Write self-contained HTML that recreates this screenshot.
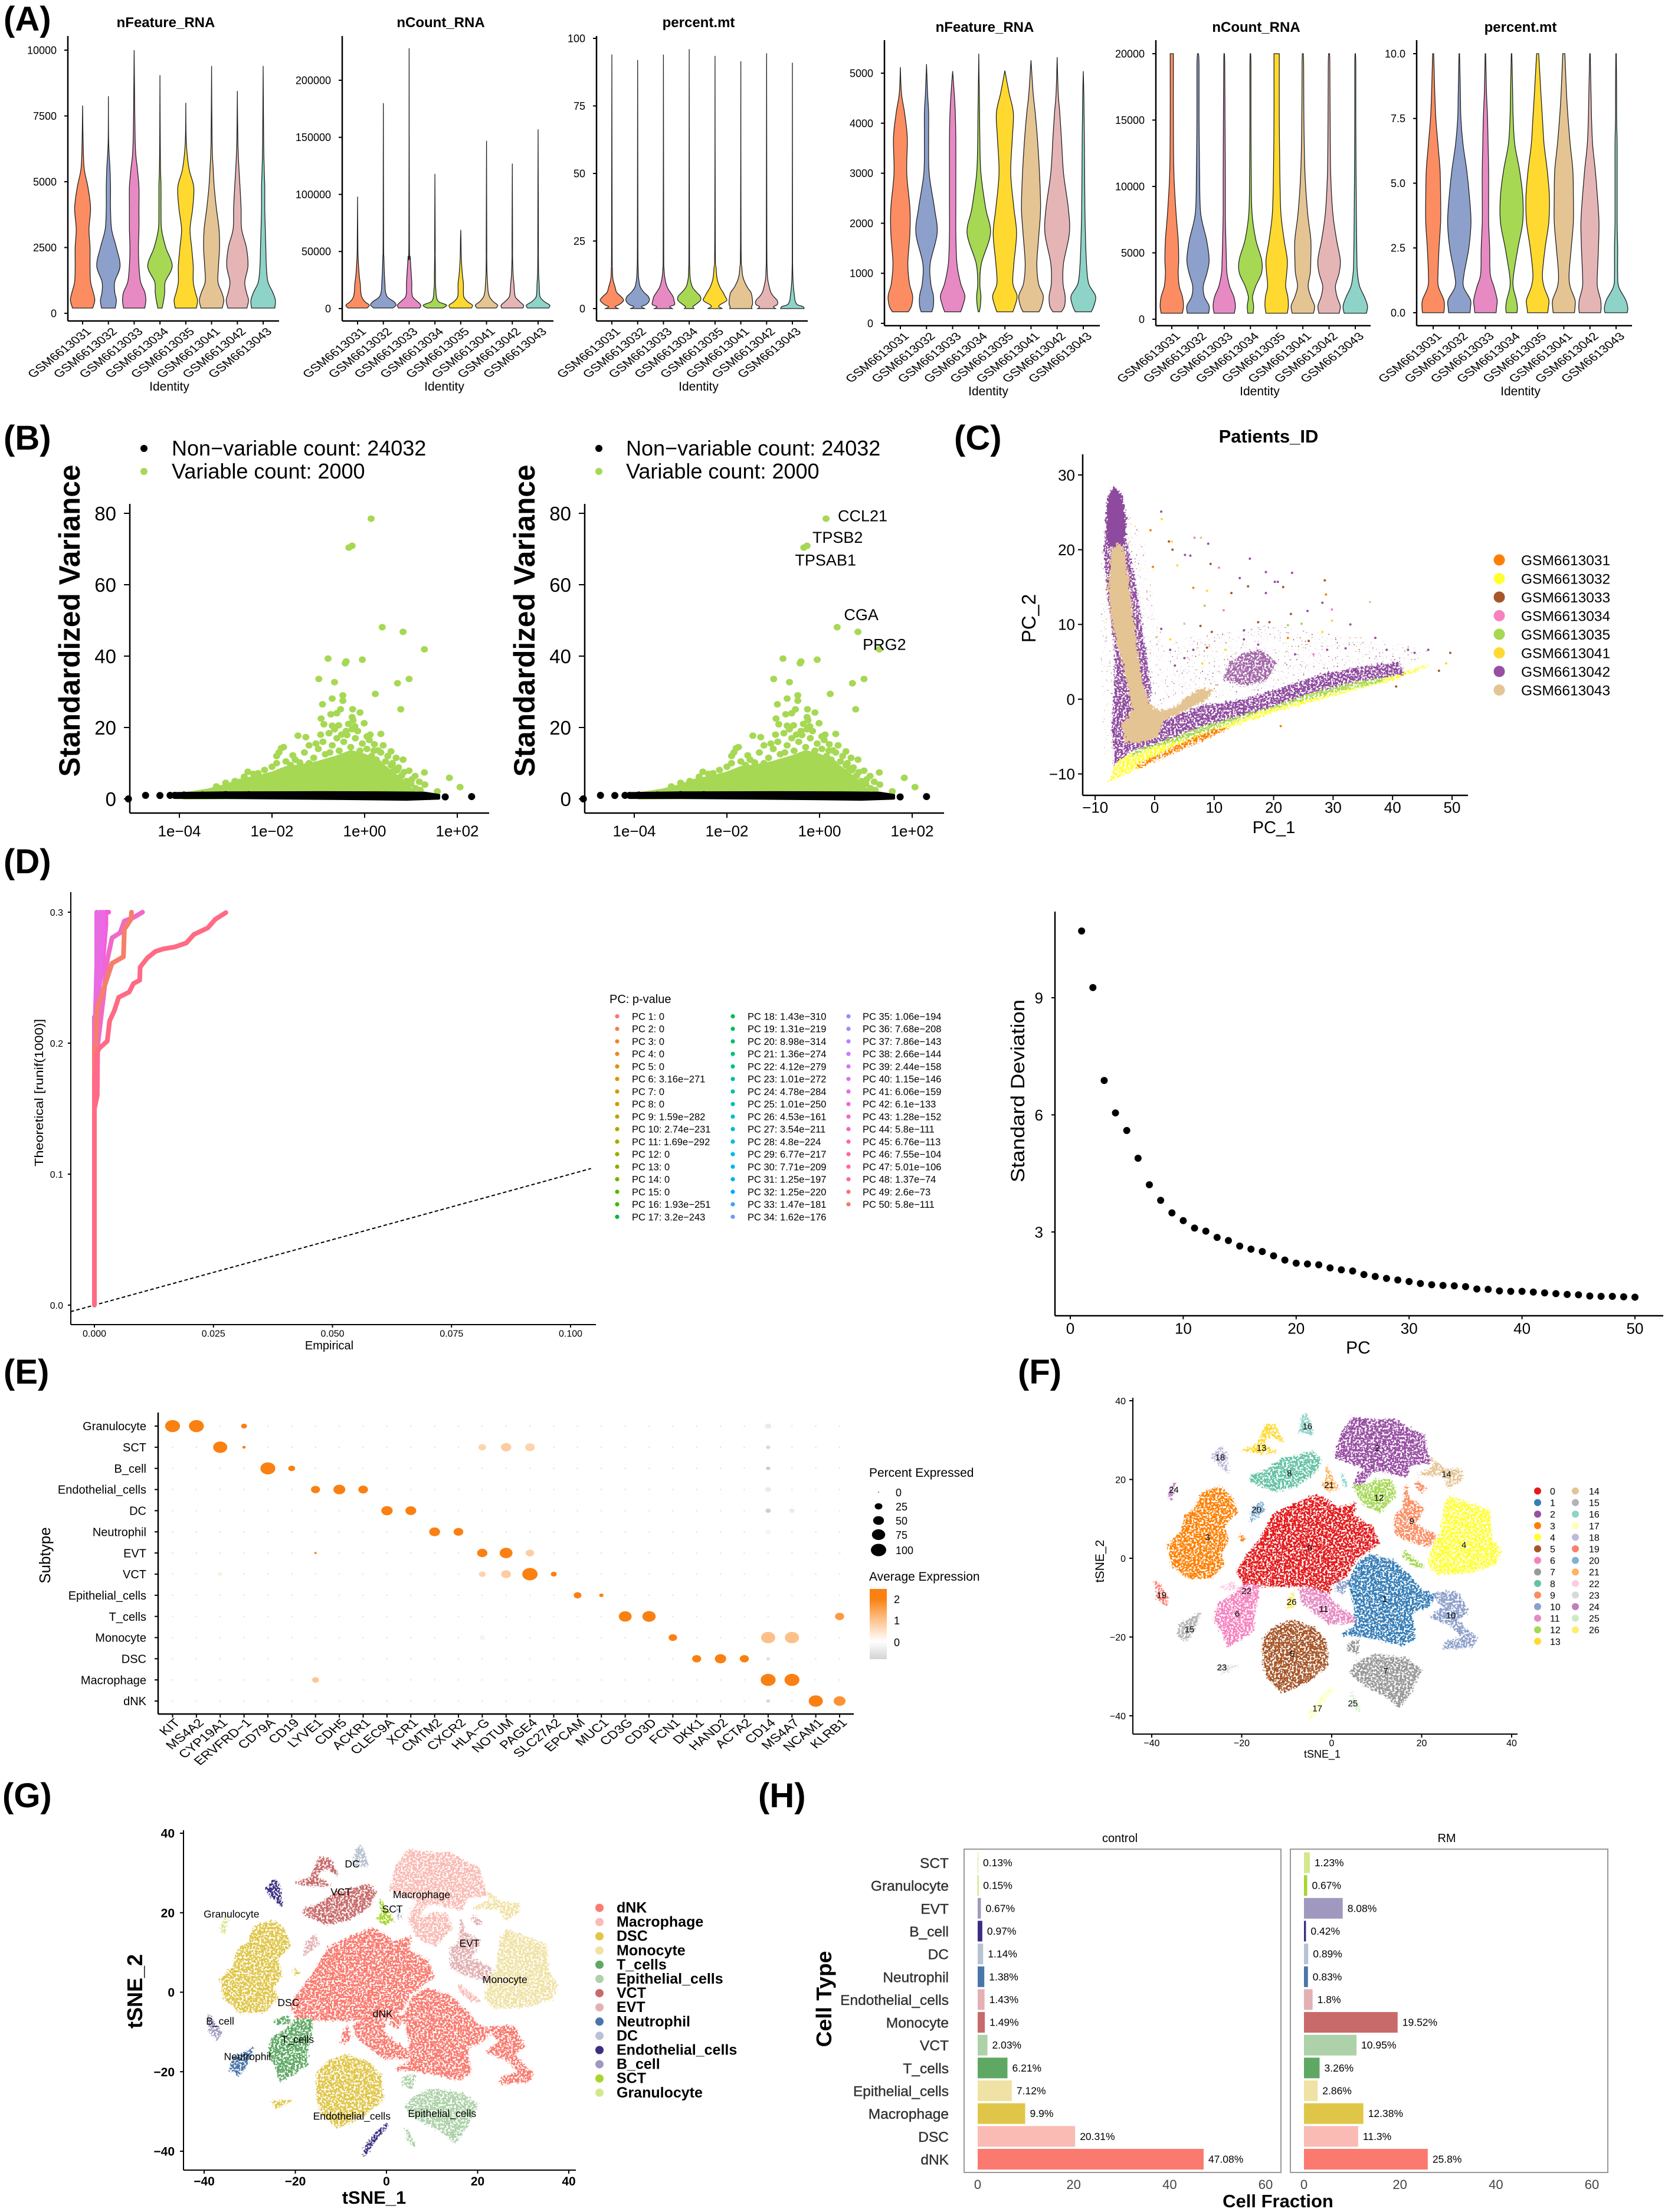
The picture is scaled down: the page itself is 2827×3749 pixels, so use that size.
<!DOCTYPE html>
<html lang="en">
<head>
<meta charset="utf-8">
<title>Single-cell RNA-seq figure panels</title>
<style>
html,body{margin:0;padding:0;background:#fff;}
svg{display:block;font-family:"Liberation Sans",sans-serif;}
text{fill:#000;}
.letter{font-weight:bold;font-size:58px;}
.vtitle{font-weight:bold;font-size:24px;text-anchor:middle;}
.vx{font-size:21px;text-anchor:middle;}
</style>
</head>
<body>
<svg id="figure" xmlns="http://www.w3.org/2000/svg" width="2827" height="3749" viewBox="0 0 2827 3749">
<defs>
<filter id="stipple" x="-3%" y="-3%" width="106%" height="106%" color-interpolation-filters="sRGB">
<feTurbulence type="fractalNoise" baseFrequency="0.3" numOctaves="2" seed="4" result="n"/>
<feDisplacementMap in="SourceGraphic" in2="n" scale="12" xChannelSelector="R" yChannelSelector="G" result="d"/>
<feColorMatrix in="n" type="matrix" values="0 0 0 0 0 0 0 0 0 0 0 0 0 0 0 0 0 0 12 -4.9" result="m"/>
<feComposite in="d" in2="m" operator="in"/>
</filter>
<filter id="rough" x="-3%" y="-3%" width="106%" height="106%" color-interpolation-filters="sRGB">
<feTurbulence type="fractalNoise" baseFrequency="0.25" numOctaves="2" seed="9" result="n"/>
<feDisplacementMap in="SourceGraphic" in2="n" scale="14" xChannelSelector="R" yChannelSelector="G"/>
</filter>
<filter id="sparse" x="-3%" y="-3%" width="106%" height="106%" color-interpolation-filters="sRGB">
<feTurbulence type="fractalNoise" baseFrequency="0.35" numOctaves="1" seed="15" result="n"/>
<feColorMatrix in="n" type="matrix" values="0 0 0 0 0 0 0 0 0 0 0 0 0 0 0 0 0 0 18 -12.6" result="m"/>
<feComposite in="SourceGraphic" in2="m" operator="in"/>
</filter>
<filter id="sparse-alt" x="-3%" y="-3%" width="106%" height="106%" color-interpolation-filters="sRGB">
<feTurbulence type="fractalNoise" baseFrequency="0.35" numOctaves="1" seed="31" result="n"/>
<feColorMatrix in="n" type="matrix" values="0 0 0 0 0 0 0 0 0 0 0 0 0 0 0 0 0 0 18 -12.8" result="m"/>
<feComposite in="SourceGraphic" in2="m" operator="in"/>
</filter>
<linearGradient id="expr-gradient" x1="0" y1="0" x2="0" y2="1">
<stop offset="0" stop-color="#FA8012"/><stop offset="0.14" stop-color="#FA8012"/><stop offset="0.45" stop-color="#FDC590"/><stop offset="0.75" stop-color="#ffffff"/><stop offset="1" stop-color="#D3D3D3"/>
</linearGradient>
</defs>
<rect x="0" y="0" width="2827" height="3749" fill="#fff"/>

<text class="letter" x="6" y="52">(A)</text>
<text class="letter" x="6" y="762">(B)</text>
<text class="letter" x="1617" y="762">(C)</text>
<text class="letter" x="6" y="1480">(D)</text>
<text class="letter" x="6" y="2345">(E)</text>
<text class="letter" x="1725" y="2345">(F)</text>
<text class="letter" x="4" y="3063">(G)</text>
<text class="letter" x="1285" y="3063">(H)</text>

<g id="panel-a">
<text class="vtitle" x="281" y="46">nFeature_RNA</text>
<text class="vtitle" x="747" y="46">nCount_RNA</text>
<text class="vtitle" x="1184" y="46">percent.mt</text>
<text class="vtitle" x="1669" y="54">nFeature_RNA</text>
<text class="vtitle" x="2129" y="54">nCount_RNA</text>
<text class="vtitle" x="2577" y="54">percent.mt</text>
<text class="vx" x="287" y="662">Identity</text>
<text class="vx" x="753" y="662">Identity</text>
<text class="vx" x="1184" y="662">Identity</text>
<text class="vx" x="1675" y="670">Identity</text>
<text class="vx" x="2135" y="670">Identity</text>
<text class="vx" x="2577" y="670">Identity</text>
</g>

<g id="panel-b">
<text transform="translate(135,1052) rotate(-90)" text-anchor="middle" font-size="50" font-weight="bold" textLength="529" lengthAdjust="spacingAndGlyphs">Standardized Variance</text>
<text transform="translate(906,1052) rotate(-90)" text-anchor="middle" font-size="50" font-weight="bold" textLength="529" lengthAdjust="spacingAndGlyphs">Standardized Variance</text>
<circle cx="244" cy="760" r="6" fill="#000"/>
<circle cx="244" cy="799" r="6" fill="#A6D854"/>
<text x="291" y="772" font-size="36">Non−variable count: 24032</text>
<text x="291" y="811" font-size="36">Variable count: 2000</text>
<circle cx="1015" cy="760" r="6" fill="#000"/>
<circle cx="1015" cy="799" r="6" fill="#A6D854"/>
<text x="1061" y="772" font-size="36">Non−variable count: 24032</text>
<text x="1061" y="811" font-size="36">Variable count: 2000</text>
</g>

<g id="panel-c">
<text x="2150" y="750" text-anchor="middle" font-size="31" font-weight="bold">Patients_ID</text>
<text x="2159" y="1412" text-anchor="middle" font-size="29">PC_1</text>
<text transform="translate(1755,1048) rotate(-90)" text-anchor="middle" font-size="33">PC_2</text>
</g>

<g id="panel-d">
<text x="558" y="2287" text-anchor="middle" font-size="20">Empirical</text>
<text transform="translate(73,1852) rotate(-90)" text-anchor="middle" font-size="20" textLength="250" lengthAdjust="spacingAndGlyphs">Theoretical [runif(1000)]</text>
<text x="1033" y="1700" font-size="20">PC: p-value</text>
</g>

<g id="panel-elbow">
<text x="2302" y="2294" text-anchor="middle" font-size="30">PC</text>
<text transform="translate(1736,1849) rotate(-90)" text-anchor="middle" font-size="32" textLength="310" lengthAdjust="spacingAndGlyphs">Standard Deviation</text>
</g>

<g id="panel-e">
<text transform="translate(85,2636) rotate(-90)" text-anchor="middle" font-size="26">Subtype</text>
<text x="1473" y="2503" font-size="21">Percent Expressed</text>
<text x="1473" y="2679" font-size="21">Average Expression</text>
<rect x="1474" y="2693" width="29" height="119" fill="url(#expr-gradient)"/>
<text x="1515" y="2717" font-size="18">2</text>
<text x="1515" y="2753" font-size="18">1</text>
<text x="1515" y="2790" font-size="18">0</text>
</g>

<g id="panel-f">
<text x="2241" y="2979" text-anchor="middle" font-size="18">tSNE_1</text>
<text transform="translate(1871,2646) rotate(-90)" text-anchor="middle" font-size="21">tSNE_2</text>
</g>

<g id="panel-g">
<text x="634" y="3735" text-anchor="middle" font-size="31" font-weight="bold">tSNE_1</text>
<text transform="translate(241,3375) rotate(-90)" text-anchor="middle" font-size="36" font-weight="bold">tSNE_2</text>
</g>

<g id="panel-h">
<text x="1898" y="3122" text-anchor="middle" font-size="20" fill="#222">control</text>
<text x="2452" y="3122" text-anchor="middle" font-size="20" fill="#222">RM</text>
<text x="2166" y="3741" text-anchor="middle" font-size="31" font-weight="bold">Cell Fraction</text>
<text transform="translate(1409,3388) rotate(-90)" text-anchor="middle" font-size="36" font-weight="bold" textLength="163" lengthAdjust="spacingAndGlyphs">Cell Type</text>
</g>
</svg>

<script>
/* ---------- shared categories ---------- */
const samples = ['GSM6613031','GSM6613032','GSM6613033','GSM6613034','GSM6613035','GSM6613041','GSM6613042','GSM6613043'];
const violinColors = ['#FC8D62','#8DA0CB','#E78AC3','#A6D854','#FFD92F','#E5C494','#E5B5B5','#8DD3C7'];

/* ---------- panel A violins (density profile at each grid value) ---------- */
const a1Grid = [200,500,800,1200,1800,2500,3200,4000,4800,5500,6500];
const a1Tops = [7900,8250,10000,9050,8000,9400,8450,9400];
const a1Dens = [
[19,23,20,15,14,14,12,15,10,3,1],
[13,15,12,12,22,15,6,4,4,3,.5],
[20,22,20,12,9,8,9,9,9,6,2],
[4,7,9,10,23,11,3,2,2,1,.5],
[20,22,18,14,14,11,8,13,15,6,1],
[20,23,19,12,13,15,14,9,5,3,1],
[18,21,17,14,20,17,8,7,5,3,1],
[22,23,18,9,6,5,4,3,3,2,1]];
const a1Ticks = [0,2500,5000,7500,10000];

const a2Grid = [500,3000,6000,10000,15000,22000,30000,45000,60000];
const a2Tops = [98000,180000,228000,118000,69000,147000,127000,157000];
const a2Dens = [
[18,22,14,8,6,5,3,1,.5],
[18,24,20,8,4,3,2,1,.5],
[20,22,16,7,5,5,4,2,.5],
[15,22,7,3,2,1,1,.5,.5],
[20,22,13,6,5,5,3,1,.5],
[18,21,13,6,3,2,1,.5,.5],
[20,21,14,6,4,3,1.5,.5,.5],
[20,22,12,4,2.5,2,1,.5,.5]];
const a2Ticks = [0,50000,100000,150000,200000];

const a3Grid = [0,.7,1.5,3,4.5,6,8,11,15,25];
const a3Tops = [94,92,94,96,93.5,91.5,94.5,91];
const a3Dens = [
[12,6,14,22,17,9,6,2,1,.5],
[14,7,16,22,20,12,5,2,1,.5],
[17,12,21,20,18,13,7,3,1,.5],
[9,7,12,21,21,14,6,2,1,.5],
[14,7,10,22,19,15,9,4,2,.5],
[21,20,22,22,21,19,12,5,2,.5],
[17,13,20,20,13,8,5,2,1,.5],
[22,20,9,5,4,3,2,1,.5,.3]];
const a3Ticks = [0,25,50,75,100];

const a4Grid = [230,350,550,800,1200,1800,2300,3000,3700,4200,4600];
const a4Tops = [5120,5180,5040,5390,5050,5260,5320,5040];
const a4Dens = [
[15,21,23,17,14,18,18,12,13,8,2],
[10,13,13,8,7,20,15,5,4,4,2],
[15,19,23,15,8,6,6,6,6,5,3],
[1,3,4,2,5,22,13,4,2,1.5,1],
[15,19,23,15,17,22,17,11,14,16,8],
[15,20,23,14,11,15,18,16,12,8,4],
[8,14,15,11,12,23,21,12,8,5,2],
[15,20,23,10,6,4,3,2.5,2,1.5,1]];
const a4Ticks = [0,1000,2000,3000,4000,5000];

const a5Grid = [450,1000,1700,2500,3500,4500,6000,8000,11000,15000,19000,20000];
const a5Tops = [20000,20000,20000,20000,20000,20000,20000,20000];
const a5Dens = [
[20,22,20,14,12,13,12,8,4,3,3,3],
[20,21,12,10,17,21,16,5,3,2,2,1],
[19,21,18,10,5,4,3,2,2,1.5,1,.5],
[5,6,4,10,21,21,10,3,1.5,1,1,.5],
[20,22,21,17,19,20,14,8,6,5,5,5],
[20,22,15,10,14,15,15,9,4,2,1.5,1],
[19,21,15,12,19,21,14,7,3,2,1.5,1],
[21,23,17,8,4,3,2.5,2,1.5,1,1,.5]];
const a5Ticks = [0,5000,10000,15000,20000];

const a6Grid = [0,.2,.5,1,1.5,2.5,3.5,4.5,5.5,6.5,7.5,8.5,10];
const a6Tops = [10,10,10,10,10,10,10,10];
const a6Dens = [
[20,21,20,10,9,11,14,14,13,9,5,3,1],
[20,21,21,8,9,18,22,19,14,7,3,2,.5],
[20,21,22,16,9,8,6,6,6,5,4,2,.5],
[10,11,9,3,4,12,21,21,15,6,3,2,.5],
[19,20,21,12,9,14,21,22,18,12,9,6,2],
[20,21,21,12,10,14,18,18,17,12,8,5,2],
[20,21,20,14,14,16,17,14,10,5,3,2,.5],
[21,22,18,5,3,3,2,2,2,2,1,1,.5]];
const a6Ticks = [0,2.5,5,7.5,10];
const a6TickLabels = ['0.0','2.5','5.0','7.5','10.0'];

/* ---------- panel B ---------- */
const hvfLogMeanTicks = [-4,-2,0,2];
const hvfLogMeanLabels = ['1e−04','1e−02','1e+00','1e+02'];
const hvfVarTicks = [0,20,40,60,80];
const hvfVariablePoints = [[.14,78.5],[-.34,70.4],[-.27,70.9],[.38,48.1],[.83,46.8],[1.29,41.9],[-.79,39.3],[-.42,38],[-.4,38.5],[-.05,39],[-.99,33.6],[-.65,32.7],[.71,32.4],[.96,33.6],[.23,29.4],[-.47,29],[-.7,28.1],[-.47,27.5],[-.91,26.5],[.78,25.1],[-.26,25.1],[-.52,25.1],[-.1,24.2],[-.73,23.7],[-.6,24],[-.94,22.5],[-.27,22.9],[-.01,21.2],[-.88,20.9],[-.56,20.6],[-.21,20.3],[-.27,19.5],[.35,18.2],[-1.44,17.7],[-1.27,17.3],[-.77,18.4],[.12,18],[-.38,17.9],[.21,15.3],[-1.8,14.2],[.29,13.6],[.57,13.3],[.83,11],[.57,9.4],[.73,8.8],[1.29,7.4],[.96,7.9],[1.09,6.4],[1.83,5.9],[1.18,4.8],[1.57,2.1],[2.06,3.3],[-2.52,7.6],[-2.16,8.1],[-1.9,12],[-1.7,10.5],[-1.5,11],[-1.3,13],[-1.2,15],[-1.1,11.5],[-1,14],[-.9,16],[-.85,12.5],[-.7,15],[-.6,17],[-.55,13.5],[-.45,16],[-.4,19],[-.3,14.5],[-.2,17],[-.15,12],[-.05,15.5],[.05,14],[.1,16.5],[.15,12],[.25,11],[.35,13],[.45,10.5],[.6,10],[.7,8],[.55,7.5],[.8,6.5],[.9,5],[1,4.2],[-2.8,5],[-2.4,7],[-2,9],[-1.6,9.5],[-1.2,10],[-.8,10.5],[-.4,11],[0,11],[-1.85,13],[-1.75,14.5],[-.95,18],[-.65,19.5],[-.35,21],[-.15,19],[.05,17.5],[-3.2,3.5],[-3,4.5],[-2.6,6.2],[-2.3,7.2],[-1.9,10],[-1.55,12.2],[-1.4,10.2],[-1.05,15.5],[-.75,13],[-.5,18],[-.1,13.5],[.2,13.5],[.3,10],[.42,8.5],[.5,12],[.65,8.5],[.75,6],[.85,7.5],[1.02,5.5],[1.1,3],[1.2,2.5],[1.3,4],[.68,11.5],[.4,15],[-.25,22],[-.7,20.5]];
const hvfVariableMass = [[-3.9,1.2],[-3.4,2.2],[-3,3.5],[-2.7,5],[-2.3,6],[-2,7],[-1.7,8.5],[-1.4,9],[-1,10],[-.6,11.5],[-.3,13],[0,12],[.3,10],[.55,7.5],[.75,5.5],[.95,3],[1.1,1],[-3.9,.5]];
const hvfBlackBand = [[-4.1,1.5],[-3,1.7],[-1,1.75],[.5,1.7],[1.3,1.6],[1.6,1],[1.6,.2],[.9,-.1],[-.5,.1],[-3,.4],[-4.1,.4]];
const hvfBlackPoints = [[-5.1,0],[-4.73,1],[-4.42,.95],[-4.2,1],[-4.1,1],[-3.9,1.1],[-3.5,1.1],[-3,1.2],[-2.5,1.2],[-2,1.1],[-1.5,1.1],[-1,1.1],[-.5,1],[0,1],[.5,.9],[1,.9],[1.4,.7],[1.74,.55],[2.31,.65]];
const hvfGeneNames = ['CCL21','TPSB2','TPSAB1','CGA','PRG2'];
const hvfGeneLabelX = [.93,.39,.13,.9,1.4];
const hvfGeneLabelY = [79.4,73.4,67,51.7,43.4];

/* ---------- panel C ---------- */
const pcaXTicks = [-10,0,10,20,30,40,50];
const pcaYTicks = [-10,0,10,20,30];
const pcaColors = ['#FF7F00','#FFFF33','#A65628','#F781BF','#A6D854','#FFD92F','#984EA3','#E5C494'];
const pcaYellowBand = [[-7.4,-10.8],[-2.8,-9.1],[5,-6.4],[12.7,-3.6],[20.5,-1.5],[29,.4],[39,2.4],[46,4.5],[42.2,3.6],[28.2,1.65],[18.9,-.46],[8.1,-3.3],[-.5,-6.4],[-5.9,-7.9]];
const pcaOrangeBand = [[-3,-9.3],[5,-6.6],[12.7,-3.9],[10,-4],[3,-6.4],[-3,-8.8]];
const pcaGreenBand = [[-4.3,-7.9],[-1.2,-6.6],[5,-5.4],[18.9,-1.4],[30.5,.95],[39,2.5],[38.3,3],[30.5,1.65],[18.9,-.6],[5,-4.5],[-2.8,-6.6]];
const pcaHazeArm = [[-9,22],[-4,25],[-1,20],[0,12],[2,6],[4,1],[-1,-2],[-8.5,-8],[-9,5]];
const pcaHazeMid = [[1,1],[3,8],[12,9],[20,10],[27,9],[38,8],[46,6.5],[42,4],[30,3.5],[20,1.5],[12,0]];
const pcaPurpleArm = [[-7.05,-8.9],[-4.3,-7.1],[1.1,-5.7],[8.1,-3.6],[18.9,-1.2],[26.7,.95],[34.4,2.4],[42.2,3.4],[41,5],[34.4,4.3],[28.2,3.4],[20.5,1.3],[14.3,-.1],[8.1,-.8],[1.1,-2.9],[-5.9,-4]];
const pcaPurpleSides = [[-8.3,22],[-5,22],[-3.4,16.4],[-2.2,10.1],[-1.5,6.6],[-.6,1.3],[-1,-2.2],[-5.5,-4.3],[-6.7,-8.9],[-7.3,-4],[-6.8,1.3],[-6.7,6.6],[-7.9,13.6],[-8.6,20]];
const pcaPurpleTop = [[-8.1,24.2],[-8,26.7],[-7,28.6],[-5.5,27.4],[-4.8,24.2],[-4.9,22],[-5.5,20.5],[-7.5,20.5],[-8.3,22]];
const pcaPurpleBlob = [[11.5,2.6],[15,1.8],[19,2.6],[20.5,5],[18,6.6],[15,6.2],[12.5,4.8]];
const pcaTanBody = [[-6.2,21],[-5.1,20],[-4.2,15],[-3.4,10],[-2.8,6],[-2,2],[-1,-.5],[.5,-1.5],[3,-1.2],[5.5,.3],[7.7,1.4],[10,1.2],[8.5,-.2],[5,-1.5],[1.5,-3],[.5,-5],[-2,-5.8],[-5,-5.8],[-5.6,-3.5],[-3.8,-1.5],[-4.5,2],[-5.5,5],[-7.2,10],[-7.8,15],[-7.3,20]];
const pcaSparsePoints = [[1.1,25.1,6],[1.2,24.1,5],[-.7,22.6,0],[2.4,21.1,2],[2.9,21.1,5],[6.7,21.6,3],[7.8,21.6,7],[9,20.8,6],[3,20,2],[6,19.2,6],[5.1,19.3,6],[-.3,17.7,0],[9.4,18.1,2],[10.8,17.6,3],[3.8,17.9,5],[14.3,16.2,6],[18.7,17,6],[23.1,16.9,6],[16,18.8,6],[20.2,15.7,6],[20.7,15.7,6],[15.7,15.1,2],[28.6,15.9,2],[28.8,14,0],[21.6,15,2],[18.7,14.2,6],[12.9,14.2,2],[6.5,14.9,0],[8.8,14.5,5],[28.2,12.9,6],[29.8,12,3],[36.2,13,7],[25.7,11.8,6],[22.9,11.4,2],[11.6,11.9,3],[8.4,12.5,4],[17.4,10.3,2],[19.3,10.3,2],[32.9,10,6],[29.8,10.5,5],[22.4,9.9,4],[24.7,10.1,4],[9.6,9,2],[7.7,9.8,2],[15,9.2,6],[22.4,8.2,0],[37.1,8.2,6],[25.9,7.8,2],[15,8,6],[17.4,7.3,6],[28.2,9,5],[8.8,6.9,2],[11.9,6.6,5],[2.6,6.6,6],[5,10.1,7],[2.6,8,5],[1.1,9.4,6],[8,4.8,5],[5,5.5,6],[3.4,4.5,6],[6.5,6.6,6],[.3,8.3,7],[39,6.6,6],[46,6.6,6],[49.7,6.2,2],[47.8,3.8,2],[43.7,6.2,6],[42.6,6.6,6],[32.1,6.8,6],[29,6.6,6],[26.7,6,3],[23.6,6,6],[21.2,-3.6,0],[40.6,1.7,2],[49,4.8,5]];

/* ---------- panel D jackstraw ---------- */
const qqXTicks = [0,.025,.05,.075,.1];
const qqXLabels = ['0.000','0.025','0.050','0.075','0.100'];
const qqYTicks = [0,.1,.2,.3];
const qqYLabels = ['0.0','0.1','0.2','0.3'];
const qqColors = ['#FF6A85','#F57F6A','#F06AC8','#E86BE0','#E86BE0','#EE66E8','#F45FD8','#FF6A85','#FF6A85'];
const qqEmpirical = [
[0,.0004,.001,.0027,.0032,.0042,.0051,.0073,.0082,.0095,.0096,.0111,.0128,.0145,.0168,.0193,.0209,.0238,.0254,.0276],
[0,.0006,.0023,.0037,.0061,.0063,.0077,.0078],
[0,.0006,.0019,.0027,.0037,.0054,.0063,.0082,.0101],
[0,.0002,.0005,.0005],
[0,.0008,.001,.0012],
[.0002,.0012,.0018,.0018],
[.0005,.0017,.0024,.0024,.003],
[0,.0006,.0007,.0012,.0016],
[0,0]];
const qqTheoretical = [
[.15,.191,.196,.2016,.217,.225,.235,.239,.2455,.248,.258,.265,.27,.272,.2734,.2765,.283,.288,.2946,.2997],
[.176,.227,.2455,.261,.266,.287,.2946,.3],
[.1499,.196,.2351,.2636,.2804,.2843,.2933,.2959,.3],
[.2,.22,.26,.3],
[.2,.24,.28,.3],
[.22,.25,.285,.3],
[.23,.26,.29,.3,.3],
[.15,.16,.2,.23,.24],
[0,.22]];
const pcLegend = ['PC 1: 0','PC 2: 0','PC 3: 0','PC 4: 0','PC 5: 0','PC 6: 3.16e−271','PC 7: 0','PC 8: 0','PC 9: 1.59e−282','PC 10: 2.74e−231','PC 11: 1.69e−292','PC 12: 0','PC 13: 0','PC 14: 0','PC 15: 0','PC 16: 1.93e−251','PC 17: 3.2e−243','PC 18: 1.43e−310','PC 19: 1.31e−219','PC 20: 8.98e−314','PC 21: 1.36e−274','PC 22: 4.12e−279','PC 23: 1.01e−272','PC 24: 4.78e−284','PC 25: 1.01e−250','PC 26: 4.53e−161','PC 27: 3.54e−211','PC 28: 4.8e−224','PC 29: 6.77e−217','PC 30: 7.71e−209','PC 31: 1.25e−197','PC 32: 1.25e−220','PC 33: 1.47e−181','PC 34: 1.62e−176','PC 35: 1.06e−194','PC 36: 7.68e−208','PC 37: 7.86e−143','PC 38: 2.66e−144','PC 39: 2.44e−158','PC 40: 1.15e−146','PC 41: 6.06e−159','PC 42: 6.1e−133','PC 43: 1.28e−152','PC 44: 5.8e−111','PC 45: 6.76e−113','PC 46: 7.55e−104','PC 47: 5.01e−106','PC 48: 1.37e−74','PC 49: 2.6e−73','PC 50: 5.8e−111'];
const pcLegendColors = ['#F8766D','#F47D53','#EE8439','#E88B1F','#E29000','#DB9500','#D29A00','#C99E00','#BEA200','#B2A600','#A5AA00','#96AD00','#85B000','#72B300','#5CB500','#3FB700','#00BA38','#00BB4B','#00BC5C','#00BD6C','#00BE7B','#00BF8A','#00BF98','#00BFA6','#00BFB3','#00BEC0','#00BDCC','#00BAD8','#00B7E3','#00B3ED','#00AEF6','#00A8FF','#40A0FF','#6E98FF','#8C90FF','#A488FF','#B881FF','#C97BFF','#D775F8','#E26FEF','#EC69E5','#F365DA','#F863CE','#FB63C1','#FD64B3','#FE65A5','#FD6897','#FC6C8A','#FA707C','#F8766D'];

/* ---------- elbow ---------- */
const elbowXTicks = [0,10,20,30,40,50];
const elbowYTicks = [3,6,9];
const elbowSd = [10.71,9.26,6.88,6.05,5.6,4.89,4.21,3.81,3.49,3.29,3.1,3.02,2.86,2.78,2.64,2.56,2.5,2.39,2.28,2.2,2.18,2.16,2.08,2.03,2,1.91,1.86,1.81,1.77,1.73,1.68,1.65,1.63,1.62,1.6,1.54,1.53,1.49,1.48,1.48,1.46,1.44,1.42,1.4,1.39,1.36,1.35,1.35,1.34,1.33];

/* ---------- panel E dot plot ---------- */
const dotRowNames = ['Granulocyte','SCT','B_cell','Endothelial_cells','DC','Neutrophil','EVT','VCT','Epithelial_cells','T_cells','Monocyte','DSC','Macrophage','dNK'];
const dotGeneNames = ['KIT','MS4A2','CYP19A1','ERVFRD−1','CD79A','CD19','LYVE1','CDH5','ACKR1','CLEC9A','XCR1','CMTM2','CXCR2','HLA−G','NOTUM','PAGE4','SLC27A2','EPCAM','MUC1','CD3G','CD3D','FCN1','DKK1','HAND2','ACTA2','CD14','MS4A7','NCAM1','KLRB1'];
const dotRow = ['Granulocyte','Granulocyte','Granulocyte','Granulocyte','SCT','SCT','SCT','SCT','SCT','SCT','B_cell','B_cell','B_cell','Endothelial_cells','Endothelial_cells','Endothelial_cells','Endothelial_cells','DC','DC','DC','DC','Neutrophil','Neutrophil','Neutrophil','EVT','EVT','EVT','EVT','VCT','VCT','VCT','VCT','VCT','Epithelial_cells','Epithelial_cells','T_cells','T_cells','T_cells','Monocyte','Monocyte','Monocyte','Monocyte','DSC','DSC','DSC','DSC','Macrophage','Macrophage','Macrophage','dNK','dNK','dNK'];
const dotGene = ['KIT','MS4A2','ERVFRD−1','CD14','CYP19A1','ERVFRD−1','HLA−G','NOTUM','PAGE4','CD14','CD79A','CD19','CD14','LYVE1','CDH5','ACKR1','CD14','CLEC9A','XCR1','CD14','MS4A7','CMTM2','CXCR2','CD14','HLA−G','NOTUM','PAGE4','LYVE1','HLA−G','NOTUM','PAGE4','SLC27A2','CYP19A1','EPCAM','MUC1','CD3G','CD3D','KLRB1','FCN1','CD14','MS4A7','HLA−G','DKK1','HAND2','ACTA2','CD14','LYVE1','CD14','MS4A7','NCAM1','KLRB1','CD14'];
const dotPercent = [95,95,15,18,85,5,25,45,40,8,95,20,8,35,60,40,15,55,50,12,12,50,40,12,45,70,30,3,20,40,100,15,8,25,8,70,75,35,30,85,85,15,35,55,35,7,20,95,95,85,60,7];
const dotExpression = [2.3,2.3,2,-.2,2.2,2,.7,.8,.7,-.4,2.3,2,-.5,2.1,2.2,2.1,-.2,2.2,2.2,-.5,-.2,2.2,2.2,.2,2.1,2.2,.8,1.8,.7,.8,2.3,2.1,.3,2.1,2,2.3,2.3,1.6,2.1,1,1,-.1,2.2,2.2,2.2,-.3,.9,2.2,2.2,2.3,1.7,-.4];
const sizeLegendPercent = [0,25,50,75,100];

/* ---------- panels F and G: cluster outlines in tSNE units ---------- */
const tsneTicks = [-40,-20,0,20,40];
const clusterPalette = ['#E41A1C','#377EB8','#984EA3','#FF7F00','#FFFF33','#A65628','#F781BF','#999999','#66C2A5','#FC8D62','#8DA0CB','#E78AC3','#A6D854','#FFD92F','#E5C494','#B3B3B3','#8DD3C7','#FFFFB3','#BEBADA','#FB8072','#80B1D3','#FDB462','#FCCDE5','#D9D9D9','#BC80BD','#CCEBC5','#FFED6F'];
const clusterIds = [0,1,2,3,4,5,6,7,8,9,10,11,12,13,14,15,16,17,18,19,20,21,22,23,24,25,26,12,9,3,16,7,10];
const clusterOutlines = [
[[-3.3,15.9],[-1.9,15.2],[1.4,12.5],[5.2,13.8],[4.7,10.5],[9,7.8],[10.4,3.8],[5.2,-.2],[3.3,-4.2],[-.5,-6.9],[-.5,-8.9],[-5.2,-6.9],[-16.5,-6.9],[-19.3,-6.9],[-20.9,-3.5],[-19.3,-.2],[-16.5,3.8],[-14.6,7.2],[-12.7,11.2],[-8,13.8]],
[[9,.8],[13.7,-.9],[17.5,-4.9],[19.8,-8.2],[23.1,-9.6],[21.2,-12.2],[17.5,-13.6],[18.4,-20.3],[15.6,-21.9],[9.9,-20.3],[6.1,-19.6],[2.4,-19.3],[5.2,-17.6],[5.2,-12.2],[3.8,-6.2],[6.1,-.9]],
[[4.7,35.6],[9.9,34.9],[13.7,35.1],[17.5,32.6],[20.3,31.2],[20.8,27.9],[21.7,24.5],[17.5,23.9],[16.5,20.9],[11.8,22.2],[9,22.2],[6.1,18.5],[5,18.5],[6.1,21.5],[8,22.5],[5.2,23.9],[.9,25.9],[2.4,31.9]],
[[-25,17.9],[-22.6,15.9],[-21.2,11.8],[-24.1,8.5],[-23.1,4.5],[-25,1.1],[-24.1,-1.5],[-26.9,-4.9],[-32.1,-4.9],[-35.4,-1.5],[-36.3,3.1],[-33.5,6.5],[-32.5,10.5],[-30.2,12.5],[-28.8,16.5]],
[[26.4,15.5],[30.7,13.8],[34.9,11.8],[35.4,5.2],[37.3,1.8],[36.3,-1.5],[30.7,-3.5],[23.6,-3.9],[21.7,-1.5],[22.6,3.1],[24.5,6.5],[25,13.2]],
[[-9,-15.9],[-4.2,-17.6],[-1.4,-20.9],[-.9,-27],[-5.2,-31],[-10.8,-34],[-14.2,-30.3],[-15.1,-26.3],[-15.1,-20.3],[-12.7,-17.6]],
[[-16.5,-6.9],[-16.5,-9.6],[-17.5,-14.9],[-17.5,-18.2],[-23.1,-22.3],[-24.1,-18.9],[-25.9,-15.6],[-25,-11.6],[-21.2,-8.9],[-19.8,-6.9]],
[[9.9,-24.6],[16.5,-25.6],[19.8,-28.3],[17.5,-33.7],[15.1,-37.7],[12.3,-35],[7.1,-32],[4.2,-29],[6.1,-26.3]],
[[-4.2,26.9],[-2.4,25.2],[-3.8,21.9],[-8,18.5],[-12.7,17.2],[-18,19.5],[-18,20.8],[-14.6,22.2],[-10.8,25.2]],
[[16.5,18.2],[17,15.2],[20.3,12.5],[18.4,8.5],[23.1,5.8],[21.7,3.1],[16.5,4.8],[14.2,6.5],[14.2,10.8],[16,12.5]],
[[23.1,-8.9],[27.8,-8.6],[30.2,-13.6],[27.8,-15.6],[29.2,-17.6],[32.1,-20.3],[31.2,-22.3],[25,-22.9],[25.5,-21.3],[29.7,-20.3],[26.4,-16.9],[22.1,-14.9],[25,-12.2],[23.6,-10.9]],
[[-5.2,-7.6],[-1.4,-8.9],[.5,-11.6],[4.7,-14.9],[5.2,-16.3],[-.5,-16.6],[-3.3,-14.2],[-6.6,-10.9],[-7.1,-8.2]],
[[9.9,19.9],[13.2,19.5],[14.2,16.2],[10.8,11.8],[7.1,13.8],[5,18.2],[9,19]],
[[-14.6,33.9],[-12.7,33.6],[-10.8,29.6],[-13.6,31.6],[-15.5,29],[-12.7,26.9],[-16.5,26.9],[-19.8,27.6],[-16.5,28.6]],
[[22.2,25.2],[25,22.5],[28.8,22.2],[28.8,19.9],[26,18.2],[25,21.2],[19.3,21.2],[23.1,23.2]],
[[-29.4,-14.2],[-30.7,-18.2],[-32.5,-20.9],[-34.2,-19.3],[-33.5,-16.6]],
[[-5.7,36.7],[-4.7,33.9],[-4.2,31.6],[-7.1,32.2],[-6.6,35.6]],
[[.3,-33],[-2.4,-37],[-4.7,-41],[-4.7,-39],[-1.9,-35]],
[[-24.5,28.2],[-23.6,26.6],[-23.1,21.9],[-25,23.9],[-26.4,25.9]],
[[-39,-5.9],[-36.3,-10.2],[-36.9,-11.7],[-38.7,-10.2]],
[[-15.6,14.2],[-15.1,12.2],[-17.9,9.5],[-17.5,12.5]],
[[-1.2,23.2],[1.4,17.9],[-.5,17.2],[-1.9,18.5],[-.9,20.5]],
[[-24.5,-7.2],[-21.7,-6.2],[-21.2,-7.6],[-23.6,-7.9]],
[[-25,-27.6],[-21.2,-27.3],[-24.1,-29]],
[[-34.9,18.9],[-35.8,15],[-36.3,16.5]],
[[4.4,-34.3],[6.1,-38.7],[4.7,-37]],
[[-8.5,-8.6],[-8.2,-12.2],[-9.9,-12.6],[-9.4,-10.2]],
[[16,1.8],[20.3,-2.2],[18.5,-2],[16,.5]],
[[19.3,19.2],[20.8,17.5],[20,17],[18.8,18.6]],
[[-20.3,5.8],[-19.3,4.8],[-20,4.5]],
[[2.4,21.2],[3.3,18.5],[2.8,18.5]],
[[4.2,-21.3],[6,-21],[5.5,-24.3],[3.5,-23]],
[[1.4,-6],[3.5,-6.2],[2.4,-8.9],[.9,-8]]];
const clusterLabelX = [-4.9,11.8,10.1,-27.6,29.4,-8.8,-21,12,-9.4,17.8,26.5,-1.8,10.5,-15.6,25.5,-31.6,-5.4,-3.2,-24.8,-37.8,-16.7,-.6,-18.9,-24.4,-35.1,4.7,-8.9];
const clusterLabelY = [2.8,-10.2,28.2,5.5,3.5,-24.1,-13.9,-28.5,21.7,9.6,-14.4,-12.7,15.5,28.2,21.5,-17.9,33.6,-38,25.8,-9.2,12.5,18.7,-8.2,-27.6,17.5,-36.7,-10.9];
const cellTypeNames = ['dNK','Macrophage','DSC','Monocyte','T_cells','Epithelial_cells','VCT','EVT','Neutrophil','DC','Endothelial_cells','B_cell','SCT','Granulocyte'];
const cellTypeColors = ['#FA7A6F','#F9BBB4','#E0C648','#F0E2A4','#5FA864','#ADD1A8','#C96A6A','#E3B1B3','#4A75A8','#B8C2D2','#3A2F82','#A098BE','#A6D62D','#D3E88D'];
const clusterCellType = [0,0,1,2,3,2,4,5,6,7,0,0,1,6,3,8,9,10,10,11,7,12,4,2,13,5,0];
const cellTypeLabelNames = ['DC','VCT','Macrophage','SCT','Granulocyte','EVT','Monocyte','DSC','dNK','B_cell','T_cells','Neutrophil','Endothelial_cells','Epithelial_cells'];
const cellTypeLabelX = [-7.5,-10,7.7,1.3,-34,18.2,26,-21.5,-.8,-36.5,-19.5,-30.5,-7.6,12.2];
const cellTypeLabelY = [32.3,25.2,24.6,20.9,19.7,12.3,3.2,-2.6,-5.4,-7.3,-11.9,-16.2,-31.2,-30.5];

/* ---------- panel H ---------- */
const fractionTypes = ['SCT','Granulocyte','EVT','B_cell','DC','Neutrophil','Endothelial_cells','Monocyte','VCT','T_cells','Epithelial_cells','Macrophage','DSC','dNK'];
const fractionColors = ['#D3E88D','#A6D62D','#A098BE','#3A2F82','#B8C2D2','#4A75A8','#E3B1B3','#C96A6A','#ADD1A8','#5FA864','#F0E2A4','#E0C648','#F9BBB4','#FA7A6F'];
const fractionControl = [.13,.15,.67,.97,1.14,1.38,1.43,1.49,2.03,6.21,7.12,9.9,20.31,47.08];
const fractionRM = [1.23,.67,8.08,.42,.89,.83,1.8,19.52,10.95,3.26,2.86,12.38,11.3,25.8];
const fractionTicks = [0,20,40,60];

/* ---------- helpers ---------- */
const NS = 'http://www.w3.org/2000/svg';
function mk(parent, tag, attrs, text) {
  const e = document.createElementNS(NS, tag);
  for (const k in attrs) e.setAttribute(k, attrs[k]);
  if (text !== undefined) e.textContent = text;
  parent.appendChild(e);
  return e;
}
function linear(d0, d1, r0, r1) { return v => r0 + (v - d0) * (r1 - r0) / (d1 - d0); }
function polyPoints(pts, x, y) { return pts.map(p => x(p[0]).toFixed(1) + ',' + y(p[1]).toFixed(1)).join(' '); }

function yAxis(g, y, values, labels, axisX, top, bottom, o) {
  const line = mk(g, 'line', {x1: axisX, x2: axisX, y1: top, y2: bottom, stroke: '#000', 'stroke-width': o.stroke || 2.5});
  
  
  values.forEach((v, i) => {
    const t = mk(g, 'line', {x1: axisX - o.tick, x2: axisX, y1: y(v), y2: y(v), stroke: '#000', 'stroke-width': 2});
    
    
    const l = mk(g, 'text', {x: axisX - o.tick - o.gap, y: y(v) + o.size * .36, 'text-anchor': 'end', 'font-size': o.size, 'font-weight': o.weight || 'normal'}, labels[i]);
    
    
  });
}
function xAxis(g, x, values, labels, axisY, left, right, o) {
  const line = mk(g, 'line', {x1: left, x2: right, y1: axisY, y2: axisY, stroke: '#000', 'stroke-width': o.stroke || 2.5});
  
  
  values.forEach((v, i) => {
    const t = mk(g, 'line', {x1: x(v), x2: x(v), y1: axisY, y2: axisY + o.tick, stroke: '#000', 'stroke-width': 2});
    
    
    let l;
    if (o.rotate) {
      l = mk(g, 'text', {transform: 'translate(' + (x(v) + o.dx) + ',' + (axisY + o.dy) + ') scale(' + o.shear + ',1) rotate(-45)', 'text-anchor': 'end', 'font-size': o.size}, labels[i]);
    } else {
      l = mk(g, 'text', {x: x(v), y: axisY + o.tick + o.gap + o.size * .72, 'text-anchor': 'middle', 'font-size': o.size, 'font-weight': o.weight || 'normal'}, labels[i]);
    }
    
    
  });
}
const VIOLIN_WIDTH = 0.9;
function violinPath(cx, grid, top, dens, y) {
  const kept = [];
  grid.forEach((v, k) => { if (v < top || v === top) kept.push([y(v), dens[k] * VIOLIN_WIDTH]); });
  if (grid[grid.length - 1] < top) kept.push([y(top), 0]);
  const n = kept.length;
  const at = i => kept[Math.max(0, Math.min(n - 1, i))];
  let d = 'M' + (cx - kept[0][1]).toFixed(1) + ',' + kept[0][0].toFixed(1) + 'L' + (cx + kept[0][1]).toFixed(1) + ',' + kept[0][0].toFixed(1);
  const segs = [];
  for (let i = 0; i < n - 1; i++) {
    const p0 = at(i - 1), p1 = at(i), p2 = at(i + 1), p3 = at(i + 2);
    segs.push({
      y1: p1[0] + (p2[0] - p0[0]) / 6, w1: Math.max(0, p1[1] + (p2[1] - p0[1]) / 6),
      y2: p2[0] - (p3[0] - p1[0]) / 6, w2: Math.max(0, p2[1] - (p3[1] - p1[1]) / 6),
      ys: p1[0], ws: p1[1], ye: p2[0], we: p2[1]
    });
  }
  segs.forEach(s => { d += 'C' + (cx + s.w1).toFixed(1) + ',' + s.y1.toFixed(1) + ' ' + (cx + s.w2).toFixed(1) + ',' + s.y2.toFixed(1) + ' ' + (cx + s.we).toFixed(1) + ',' + s.ye.toFixed(1); });
  d += 'L' + (cx - kept[n - 1][1]).toFixed(1) + ',' + kept[n - 1][0].toFixed(1);
  segs.slice().reverse().forEach(s => { d += 'C' + (cx - s.w2).toFixed(1) + ',' + s.y2.toFixed(1) + ' ' + (cx - s.w1).toFixed(1) + ',' + s.y1.toFixed(1) + ' ' + (cx - s.ws).toFixed(1) + ',' + s.ys.toFixed(1); });
  return d + 'Z';
}
function violinPanel(cfg) {
  const g = document.getElementById('panel-a');
  const x = linear(0, samples.length - 1, cfg.c0, cfg.c1);
  const y = linear(0, cfg.vMax, cfg.y0, cfg.yMax);
  samples.forEach((s, i) => {
    const v = mk(g, 'path', {d: violinPath(x(i), cfg.grid, cfg.tops[i], cfg.dens[i], y), fill: violinColors[i], stroke: '#222', 'stroke-width': 1.3});
    
    
  });
  yAxis(g, y, cfg.ticks, cfg.labels || cfg.ticks.map(String), cfg.axisX, cfg.top, cfg.bottom, {tick: 6, gap: 13, size: 18});
  xAxis(g, x, samples.map((s, i) => i), samples, cfg.bottom, cfg.axisX, cfg.axisEnd, {tick: 6, size: 18, rotate: true, shear: 1.27, dx: 16, dy: 19});
}
violinPanel({grid: a1Grid, tops: a1Tops, dens: a1Dens, ticks: a1Ticks, vMax: 10000, y0: 531, yMax: 85, c0: 140, c1: 446, axisX: 115, axisEnd: 473, top: 61, bottom: 544});
violinPanel({grid: a2Grid, tops: a2Tops, dens: a2Dens, ticks: a2Ticks, vMax: 200000, y0: 523, yMax: 136, c0: 606, c1: 912, axisX: 580, axisEnd: 938, top: 61, bottom: 544});
violinPanel({grid: a3Grid, tops: a3Tops, dens: a3Dens, ticks: a3Ticks, vMax: 100, y0: 523, yMax: 65, c0: 1037, c1: 1343, axisX: 1011, axisEnd: 1369, top: 61, bottom: 544});
violinPanel({grid: a4Grid, tops: a4Tops, dens: a4Dens, ticks: a4Ticks, vMax: 5000, y0: 548, yMax: 124, c0: 1526, c1: 1836, axisX: 1499, axisEnd: 1864, top: 68, bottom: 552});
violinPanel({grid: a5Grid, tops: a5Tops, dens: a5Dens, ticks: a5Ticks, vMax: 20000, y0: 541, yMax: 91, c0: 1986, c1: 2297, axisX: 1959, axisEnd: 2323, top: 68, bottom: 552});
violinPanel({grid: a6Grid, tops: a6Tops, dens: a6Dens, ticks: a6Ticks, labels: a6TickLabels, vMax: 10, y0: 530, yMax: 91, c0: 2429, c1: 2739, axisX: 2401, axisEnd: 2766, top: 68, bottom: 552});

/* Panel B */
function hvfPanel(offset, labelled) {
  const g = document.getElementById('panel-b');
  const x = linear(-4, 2, 304 + offset, 775 + offset);
  const y = linear(0, 80, 1354, 870);
  const mass = mk(g, 'polygon', {points: polyPoints(hvfVariableMass, x, y), fill: '#A6D854', stroke: '#A6D854', 'stroke-width': 8, 'stroke-linejoin': 'round'});
  
  
  hvfVariablePoints.forEach(p => {
    const c = mk(g, 'ellipse', {cx: x(p[0]), cy: y(p[1]), rx: 6, ry: 5.5, fill: '#A6D854'});
    
    
  });
  const band = mk(g, 'polygon', {points: polyPoints(hvfBlackBand, x, y), fill: '#000', stroke: '#000', 'stroke-width': 5, 'stroke-linejoin': 'round'});
  
  
  hvfBlackPoints.forEach(p => {
    const c = mk(g, 'circle', {cx: x(p[0]), cy: y(p[1]), r: 6, fill: '#000'});
    
    
  });
  yAxis(g, y, hvfVarTicks, hvfVarTicks.map(String), 220 + offset, 854, 1378, {tick: 10, gap: 13, size: 33});
  xAxis(g, x, hvfLogMeanTicks, hvfLogMeanLabels, 1378, 220 + offset, 829 + offset, {tick: 8, gap: 13, size: 26});
  if (labelled) {
    hvfGeneNames.forEach((name, i) => {
      const t = mk(g, 'text', {x: x(hvfGeneLabelX[i]), y: y(hvfGeneLabelY[i]) + 10, 'text-anchor': 'middle', 'font-size': 27}, name);
      
      
    });
  }
}
hvfPanel(0, false);
hvfPanel(771, true);

/* Panel C */
(function () {
  const g = document.getElementById('panel-c');
  const x = linear(0, 50, 1957, 2461);
  const y = linear(0, 30, 1185, 805);
  const haze = mk(g, 'g', {filter: 'url(#sparse)'});
  
  
  const hazeA = mk(haze, 'polygon', {points: polyPoints(pcaHazeArm, x, y), fill: '#984EA3'});
  
  
  const hazeB = mk(haze, 'polygon', {points: polyPoints(pcaHazeMid, x, y), fill: '#984EA3'});
  
  
  const haze2 = mk(g, 'g', {filter: 'url(#sparse-alt)'});
  
  
  const hazeC = mk(haze2, 'polygon', {points: polyPoints(pcaHazeArm, x, y), fill: '#F0A020'});
  
  
  const hazeD = mk(haze2, 'polygon', {points: polyPoints(pcaHazeMid, x, y), fill: '#A65628'});
  
  
  const speck = mk(g, 'g', {filter: 'url(#stipple)'});
  
  
  const yellow = mk(speck, 'polygon', {points: polyPoints(pcaYellowBand, x, y), fill: '#FFFF33', stroke: '#FFFF33', 'stroke-width': 4});
  
  
  const orange = mk(speck, 'polygon', {points: polyPoints(pcaOrangeBand, x, y), fill: '#FF7F00'});
  
  
  const green = mk(speck, 'polygon', {points: polyPoints(pcaGreenBand, x, y), fill: '#A6D854'});
  
  
  const arm = mk(speck, 'polygon', {points: polyPoints(pcaPurpleArm, x, y), fill: '#8E4A9F'});
  
  
  const sides = mk(speck, 'polygon', {points: polyPoints(pcaPurpleSides, x, y), fill: '#8E4A9F'});
  
  
  const blob = mk(speck, 'polygon', {points: polyPoints(pcaPurpleBlob, x, y), fill: '#A366A8'});
  
  
  const layers = mk(g, 'g', {filter: 'url(#rough)'});
  
  
  const top = mk(layers, 'polygon', {points: polyPoints(pcaPurpleTop, x, y), fill: '#8E4A9F'});
  
  
  const tan = mk(layers, 'polygon', {points: polyPoints(pcaTanBody, x, y), fill: '#E5C494'});
  
  
  pcaSparsePoints.forEach(p => {
    const c = mk(g, 'circle', {cx: x(p[0]), cy: y(p[1]), r: 2, fill: pcaColors[p[2]]});
    
    
  });
  yAxis(g, y, pcaYTicks, pcaYTicks.map(v => String(v).replace('-', '−')), 1835, 770, 1348, {tick: 8, gap: 5, size: 26});
  xAxis(g, x, pcaXTicks, pcaXTicks.map(v => String(v).replace('-', '−')), 1348, 1835, 2488, {tick: 8, gap: 3, size: 26});
  samples.forEach((s, i) => {
    const ly = 949 + i * 31.5;
    const d = mk(g, 'circle', {cx: 2541, cy: ly, r: 9.5, fill: pcaColors[i]});
    
    
    const t = mk(g, 'text', {x: 2578, y: ly + 9, 'font-size': 24.5}, s);
    
    
  });
})();

/* Panel D jackstraw */
(function () {
  const g = document.getElementById('panel-d');
  const x = linear(0, .1, 160, 967);
  const y = linear(0, .3, 2212, 1546);
  const diag = mk(g, 'line', {x1: x(-.005), y1: y(-.005), x2: x(.1043), y2: y(.1043), stroke: '#000', 'stroke-width': 2, 'stroke-dasharray': '6 4'});
  
  
  qqEmpirical.slice().reverse().forEach((xs, r) => {
    const i = qqEmpirical.length - 1 - r;
    const pts = xs.map((v, k) => [v, qqTheoretical[i][k]]);
    const l = mk(g, 'polyline', {points: polyPoints(pts, x, y), fill: 'none', stroke: qqColors[i], 'stroke-width': 8, 'stroke-linecap': 'round', 'stroke-linejoin': 'round'});
    
    
  });
  yAxis(g, y, qqYTicks, qqYLabels, 120, 1512, 2245, {tick: 5, gap: 8, size: 16, stroke: 2});
  xAxis(g, x, qqXTicks, qqXLabels, 2245, 120, 1010, {tick: 5, gap: 4, size: 16, stroke: 2});
  const perCol = [17, 17, 16];
  const colDot = [1046, 1242, 1438];
  const colText = [1071, 1267, 1462];
  let idx = 0;
  perCol.forEach((count, c) => {
    for (let r = 0; r < count; r++, idx++) {
      const ly = 1722.5 + r * 21.24;
      const d = mk(g, 'circle', {cx: colDot[c], cy: ly, r: 3.6, fill: pcLegendColors[idx]});
      
      
      const t = mk(g, 'text', {x: colText[c], y: ly + 6, 'font-size': 16.5}, pcLegend[idx]);
      
      
    }
  });
})();

/* Elbow */
(function () {
  const g = document.getElementById('panel-elbow');
  const x = linear(0, 50, 1814, 2771);
  const y = linear(3, 9, 2088, 1691);
  elbowSd.forEach((v, i) => {
    const c = mk(g, 'circle', {cx: x(i + 1), cy: y(v), r: 6, fill: '#000'});
    
    
  });
  yAxis(g, y, elbowYTicks, elbowYTicks.map(String), 1788, 1545, 2230, {tick: 6, gap: 14, size: 26});
  xAxis(g, x, elbowXTicks, elbowXTicks.map(String), 2230, 1788, 2819, {tick: 6, gap: 6, size: 26});
})();

/* Panel E */
function exprColor(e) {
  const mix = (a, b, t) => a.map((v, i) => Math.round(v + (b[i] - v) * t));
  const rgb = e >= 0 ? mix([255, 255, 255], [250, 128, 18], Math.min(1, e / 2)) : mix([255, 255, 255], [205, 205, 205], Math.min(1, -e / .5));
  return 'rgb(' + rgb.join(',') + ')';
}
(function () {
  const g = document.getElementById('panel-e');
  const x = linear(0, dotGeneNames.length - 1, 292.5, 1423);
  const y = linear(0, dotRowNames.length - 1, 2417, 2883);
  const rx = p => Math.sqrt(p / 100) * 13;
  const ry = p => Math.sqrt(p / 100) * 10.5;
  dotRowNames.forEach((r, ri) => {
    dotGeneNames.forEach((c, ci) => {
      const b = mk(g, 'circle', {cx: x(ci), cy: y(ri), r: 1.3, fill: '#e4e4e4'});
      
      
    });
  });
  dotPercent.forEach((p, i) => {
    const cx = x(dotGeneNames.indexOf(dotGene[i]));
    const cy = y(dotRowNames.indexOf(dotRow[i]));
    const d = mk(g, 'ellipse', {cx: cx, cy: cy, rx: rx(p), ry: ry(p), fill: exprColor(dotExpression[i])});
    
    
  });
  yAxis(g, y, dotRowNames.map((n, i) => i), dotRowNames, 268, 2394, 2905, {tick: 6, gap: 14, size: 20});
  xAxis(g, x, dotGeneNames.map((n, i) => i), dotGeneNames, 2905, 268, 1447, {tick: 6, size: 19.4, rotate: true, shear: 1.24, dx: 14, dy: 16});
  const ly = [2529, 2553, 2577, 2601, 2627];
  sizeLegendPercent.forEach((p, i) => {
    const d = mk(g, 'ellipse', {cx: 1489, cy: ly[i], rx: Math.max(.8, rx(p)), ry: Math.max(.8, ry(p)), fill: '#000'});
    
    
    const t = mk(g, 'text', {x: 1518, y: ly[i] + 7, 'font-size': 18}, String(p));
    
    
  });
})();

/* Panels F and G */
function tsneClusters(g, x, y, colorOf) {
  const layer = mk(g, 'g', {filter: 'url(#stipple)'});
  
  
  clusterOutlines.forEach((pts, i) => {
    const col = colorOf(clusterIds[i]);
    const p = mk(layer, 'polygon', {points: polyPoints(pts, x, y), fill: col, stroke: col, 'stroke-width': 4, 'stroke-linejoin': 'round'});
    
    
  });
}
(function () {
  const g = document.getElementById('panel-f');
  const x = linear(-40, 40, 1952, 2562);
  const y = linear(-40, 40, 2908, 2374);
  tsneClusters(g, x, y, c => clusterPalette[c]);
  clusterLabelX.forEach((v, i) => {
    const t = mk(g, 'text', {x: x(v), y: y(clusterLabelY[i]) + 6, 'text-anchor': 'middle', 'font-size': 15}, String(i));
    
    
  });
  const labels = tsneTicks.map(v => String(v).replace('-', '−'));
  yAxis(g, y, tsneTicks, labels, 1920, 2369, 2939, {tick: 6, gap: 6, size: 16, stroke: 2});
  xAxis(g, x, tsneTicks, labels, 2939, 1920, 2572, {tick: 6, gap: 3, size: 16, stroke: 2});
  clusterPalette.forEach((col, i) => {
    const c = i < 14 ? 0 : 1;
    const r = i < 14 ? i : i - 14;
    const ly = 2527 + r * 19.6;
    const d = mk(g, 'circle', {cx: c ? 2670 : 2606, cy: ly, r: 6, fill: col});
    
    
    const t = mk(g, 'text', {x: c ? 2693 : 2627, y: ly + 6, 'font-size': 16}, String(i));
    
    
  });
})();
(function () {
  const g = document.getElementById('panel-g');
  const x = linear(-40, 40, 346, 964);
  const y = linear(-40, 40, 3646, 3107);
  tsneClusters(g, x, y, c => cellTypeColors[clusterCellType[c]]);
  cellTypeLabelNames.forEach((n, i) => {
    const t = mk(g, 'text', {x: x(cellTypeLabelX[i]), y: y(cellTypeLabelY[i]) + 6, 'text-anchor': 'middle', 'font-size': 17.5}, n);
    
    
  });
  const labels = tsneTicks.map(v => String(v).replace('-', '−'));
  yAxis(g, y, tsneTicks, labels, 311, 3102, 3678, {tick: 6, gap: 9, size: 21, weight: 'bold', stroke: 2});
  xAxis(g, x, tsneTicks, labels, 3678, 311, 976, {tick: 6, gap: 5, size: 21, weight: 'bold', stroke: 2});
  cellTypeNames.forEach((n, i) => {
    const ly = 3233.5 + i * 24.1;
    const d = mk(g, 'circle', {cx: 1016, cy: ly, r: 7, fill: cellTypeColors[i]});
    
    
    const t = mk(g, 'text', {x: 1045, y: ly + 8, 'font-size': 25, 'font-weight': 'bold'}, n);
    
    
  });
})();

/* Panel H */
function fractionFacet(g, values, left, right, zero) {
  const x = linear(0, 60, zero, zero + 488);
  const y = linear(0, fractionTypes.length - 1, 3157, 3659.5);
  const box = mk(g, 'rect', {x: left, y: 3134, width: right - left, height: 548, fill: 'none', stroke: '#999', 'stroke-width': 2});
  
  
  values.forEach((v, i) => {
    const b = mk(g, 'rect', {x: x(0), y: y(i) - 17.5, width: x(v) - x(0), height: 35, fill: fractionColors[i]});
    
    
    const t = mk(g, 'text', {x: x(v) + 8, y: y(i) + 6, 'font-size': 17.5, fill: '#222'}, v + '%');
    
    
  });
  fractionTicks.forEach(v => {
    const t = mk(g, 'text', {x: x(v), y: 3710, 'text-anchor': 'middle', 'font-size': 22}, String(v));
    
    
    t.style.fill = '#444';
  });
}
(function () {
  const g = document.getElementById('panel-h');
  fractionFacet(g, fractionControl, 1634, 2171, 1657);
  fractionFacet(g, fractionRM, 2187, 2725, 2210);
  const y = linear(0, fractionTypes.length - 1, 3157, 3659.5);
  fractionTypes.forEach((n, i) => {
    const t = mk(g, 'text', {x: 1608, y: y(i) + 9, 'text-anchor': 'end', 'font-size': 24.5, stroke: '#333', 'stroke-width': .4}, n);
    
    
    t.style.fill = '#333';
  });
})();
</script>
</body>
</html>
